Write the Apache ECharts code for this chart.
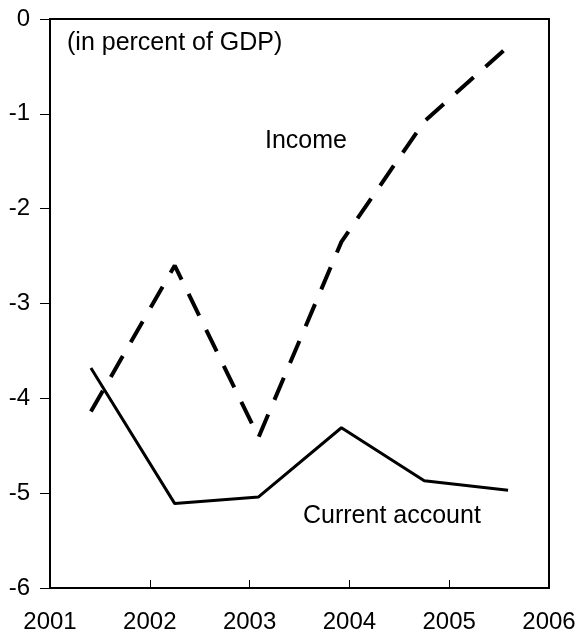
<!DOCTYPE html>
<html>
<head>
<meta charset="utf-8">
<script src="https://cdn.jsdelivr.net/npm/echarts@6/dist/echarts.min.js"></script>
<style>
  html, body { margin: 0; padding: 0; background: #fff; }
  #wrap { width: 579px; height: 637px; }
</style>
</head>
<body>
<div id="wrap"></div>
<script>
// years along x (points sit between the year ticks)
var years = [2001.41, 2002.25, 2003.09, 2003.92, 2004.75, 2005.59];
var currentAccount = [-3.68, -5.11, -5.04, -4.31, -4.87, -4.97];
var income = [-4.14, -2.60, -4.41, -2.35, -1.08, -0.29];
var xTicks = [2001, 2006, 1];
var yTicks = [-6, 0, 1];

function pairs(xs, ys) {
  return xs.map(function (x, i) { return [x, ys[i]]; });
}

var font = 'Liberation Sans, Arial, sans-serif';

var option = {
    animation: false,
    backgroundColor: '#fff',
    grid: {
        left: 50,
        right: 30,
        top: 19,
        bottom: 49,
        show: true,
        borderColor: '#000',
        borderWidth: 2
    },
    xAxis: {
        type: 'value',
        min: xTicks[0],
        max: xTicks[1],
        interval: xTicks[2],
        axisLine: { onZero: false, lineStyle: { color: '#000', width: 2 } },
        axisTick: { inside: true, length: 8, lineStyle: { color: '#000', width: 1 } },
        axisLabel: {
            color: '#000', fontSize: 24, fontFamily: font, margin: 22,
            formatter: function (v) { return String(v); }
        },
        splitLine: { show: false }
    },
    yAxis: {
        type: 'value',
        min: yTicks[0],
        max: yTicks[1],
        interval: yTicks[2],
        axisLine: { show: true, onZero: false, lineStyle: { color: '#000', width: 2 } },
        axisTick: { show: true, length: 10, lineStyle: { color: '#000', width: 1 } },
        axisLabel: { color: '#000', fontSize: 24, fontFamily: font, margin: 20 },
        splitLine: { show: false }
    },
    graphic: [
        { type: 'text', left: 67, top: 31, style: { text: '(in percent of GDP)', fontSize: 25, fontFamily: font, fill: '#000' } },
        { type: 'text', left: 265, top: 129, style: { text: 'Income', fontSize: 25, fontFamily: font, fill: '#000' } },
        { type: 'text', left: 303, top: 504, style: { text: 'Current account', fontSize: 25, fontFamily: font, fill: '#000' } }
    ],
    series: [
        {
            name: 'Current account',
            type: 'line',
            data: pairs(years, currentAccount),
            symbol: 'none',
            lineStyle: { color: '#000', width: 3 }
        },
        {
            name: 'Income',
            type: 'line',
            data: pairs(years, income),
            symbol: 'none',
            lineStyle: { color: '#000', width: 4, type: [24, 16] }
        }
    ]
};

var myChart = echarts.init(document.getElementById('wrap'));
myChart.setOption(option);
</script>
</body>
</html>
